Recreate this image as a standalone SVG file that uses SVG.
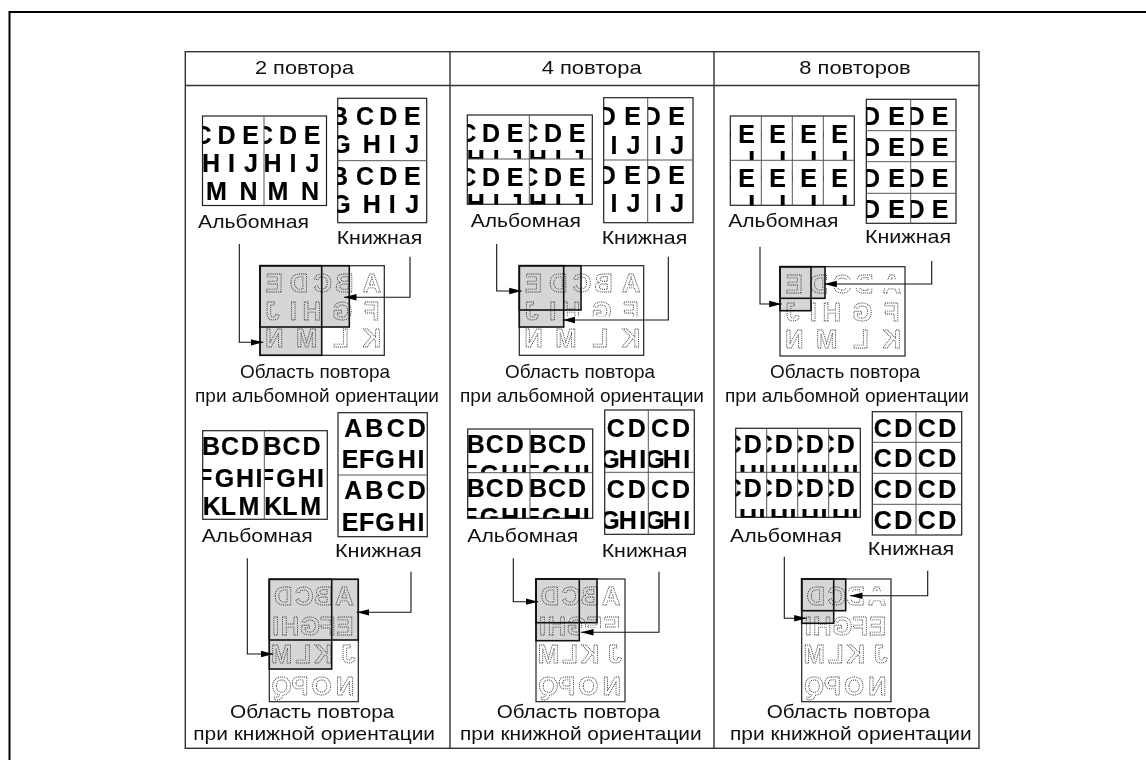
<svg xmlns="http://www.w3.org/2000/svg" width="1146" height="760" viewBox="0 0 1146 760">
<style>
.l{font:18.5px "Liberation Sans",Arial,sans-serif;fill:#111}
svg svg text{font:bold 25px "Liberation Sans",Arial,sans-serif;fill:#000;stroke:#000;stroke-width:.2;text-anchor:middle}
.o text{font:bold 25.5px "Liberation Sans",Arial,sans-serif;fill:none;stroke:#333;stroke-width:.85;stroke-dasharray:1 .9;text-anchor:middle}
.s{fill:none;stroke:#222;stroke-width:1.2}
.w{fill:#fff;stroke:#222;stroke-width:1.2}
.d{stroke:#555;stroke-width:1;fill:none}
.g{fill:#d6d6d6}
.r{fill:none;stroke:#111;stroke-width:1.6}
.t{stroke:#333;stroke-width:1.4;fill:none}
.a{fill:none;stroke:#111;stroke-width:1.1;marker-end:url(#h)}
</style>
<defs>
<filter id="soft" filterUnits="userSpaceOnUse" x="0" y="0" width="1146" height="760" color-interpolation-filters="sRGB"><feGaussianBlur stdDeviation=".3"/></filter>
<marker id="h" markerUnits="userSpaceOnUse" markerWidth="13" markerHeight="8" refX="12.5" refY="4" orient="auto"><path d="M0 .8L12.5 4L0 7.2Z" fill="#000"/></marker>
<g id="ml" class="o" transform="scale(-1,1)">
<text x="-14.3 -39 -62.7 -84.3 -111.7" y="26">EDCBA</text>
<text x="-12.3 -33.3 -51.7 -82.3 -111.7" y="54.3">JIHGF</text>
<text x="-14.3 -46.7 -81 -111.7" y="81.6">NMLK</text>
</g>
<g id="mp" class="o" transform="scale(-1,1)">
<text x="-14 -35 -54 -75" y="25.7">DCBA</text>
<text x="-6.4 -20.7 -40.7 -58.4 -75.7" y="55.7">IHGFE</text>
<text x="-12.4 -34 -54 -79" y="84">MLKJ</text>
<text x="-12.4 -30.7 -52.4 -75.7" y="115.7">QPON</text>
</g>
</defs>
<rect width="1146" height="760" fill="#fff"/>
<g id="all" filter="url(#soft)">
<g id="frame"><path d="M1146 12H9.5V760" fill="none" stroke="#000" stroke-width="2"/></g>

<g id="table">
<rect class="t" x="185.3" y="51.7" width="793.7" height="696.6"/>
<path class="t" d="M185.3 85.5H979M450 51.7V748.3M714 51.7V748.3"/>
<text class="l" x="255" y="74" textLength="99" lengthAdjust="spacingAndGlyphs">2 повтора</text>
<text class="l" x="541.7" y="74" textLength="100" lengthAdjust="spacingAndGlyphs">4 повтора</text>
<text class="l" x="799.3" y="74" textLength="111.4" lengthAdjust="spacingAndGlyphs">8 повторов</text>
</g>

<!-- column 1, top -->
<g id="c1t-land">
<rect class="w" x="202.5" y="116" width="124" height="89.5"/>
<svg x="202.5" y="116" width="61.5" height="89.5"><text x="0 24 48" y="27.5">CDE</text><text x="8.5 29 48.5" y="56">HIJ</text><text x="14 46" y="84">MN</text></svg>
<svg x="264" y="116" width="62.5" height="89.5"><text x="0 24 48" y="27.5">CDE</text><text x="8.5 29 48.5" y="56">HIJ</text><text x="14 46" y="84">MN</text></svg>
<path class="d" d="M264 116V205.5"/>
<text class="l" x="198" y="228" textLength="111" lengthAdjust="spacingAndGlyphs">Альбомная</text>
</g>
<g id="c1t-port">
<rect class="w" x="337.7" y="98.3" width="89" height="124.4"/>
<svg x="337.7" y="98.3" width="89" height="62.4"><text x="1.3 27.3 50.6 74.6" y="26.7">BCDE</text><text x="3.3 34 54.6 74.6" y="54.4">GHIJ</text></svg>
<svg x="337.7" y="160.7" width="89" height="62"><text x="1.3 27.3 50.6 74.6" y="24.3">BCDE</text><text x="3.3 34 54.6 74.6" y="52">GHIJ</text></svg>
<path class="d" d="M337.7 160.7H426.7"/>
<text class="l" x="336.7" y="244" textLength="85.6" lengthAdjust="spacingAndGlyphs">Книжная</text>
</g>
<g id="c1t-area">
<rect x="260" y="265.7" width="124.3" height="89.6" fill="#fff"/>
<rect class="g" x="260" y="265.7" width="61.7" height="89.6"/><rect class="g" x="260" y="265.7" width="89.3" height="61.3"/>
<use href="#ml" x="260" y="265.7"/>
<rect class="s" x="260" y="265.7" width="124.3" height="89.6"/>
<rect class="r" x="260" y="265.7" width="61.7" height="89.6"/><rect class="r" x="260" y="265.7" width="89.3" height="61.3"/>
<text class="l" x="240" y="378.3" textLength="150" lengthAdjust="spacingAndGlyphs">Область повтора</text>
<text class="l" x="195" y="401.7" textLength="244" lengthAdjust="spacingAndGlyphs">при альбомной ориентации</text>
</g>

<!-- column 1, bottom -->
<g id="c1b-land">
<rect class="w" x="202.7" y="430.7" width="124.6" height="88.6"/>
<svg x="202.7" y="430.7" width="61.6" height="88.6"><text x="8.3 27.3 47.3" y="24.3">BCD</text><text x="2 21.7 42.3 56.3" y="56">FGHI</text><text x="9 25.7 46.3" y="84.3">KLM</text></svg>
<svg x="264.3" y="430.7" width="63" height="88.6"><text x="8.3 27.3 47.3" y="24.3">BCD</text><text x="2 21.7 42.3 56.3" y="56">FGHI</text><text x="9 25.7 46.3" y="84.3">KLM</text></svg>
<path class="d" d="M264.3 430.7V519.3"/>
<text class="l" x="201.7" y="541.7" textLength="111" lengthAdjust="spacingAndGlyphs">Альбомная</text>
</g>
<g id="c1b-port">
<rect class="w" x="338" y="412.7" width="89.3" height="124"/>
<svg x="338" y="412.7" width="89.3" height="62.3"><text x="15.3 36.3 57.7 78.7" y="24.6">ABCD</text><text x="12 28.7 47 68.7 83" y="55.6">EFGHI</text></svg>
<svg x="338" y="475" width="89.3" height="61.7"><text x="15.3 36.3 57.7 78.7" y="24.3">ABCD</text><text x="12 28.7 47 68.7 83" y="55.7">EFGHI</text></svg>
<path class="d" d="M338 475H427.3"/>
<text class="l" x="335" y="556.7" textLength="86.7" lengthAdjust="spacingAndGlyphs">Книжная</text>
</g>
<g id="c1b-area">
<rect x="269.3" y="579.3" width="89" height="122.4" fill="#fff"/>
<rect class="g" x="269.3" y="579.3" width="89" height="60.7"/><rect class="g" x="269.3" y="579.3" width="62.4" height="89.7"/>
<use href="#mp" x="269.3" y="579.3"/>
<rect class="s" x="269.3" y="579.3" width="89" height="122.4"/>
<rect class="r" x="269.3" y="579.3" width="89" height="60.7"/><rect class="r" x="269.3" y="579.3" width="62.4" height="89.7"/>
<text class="l" x="230" y="718.3" textLength="164.3" lengthAdjust="spacingAndGlyphs">Область повтора</text>
<text class="l" x="193.3" y="740" textLength="241.7" lengthAdjust="spacingAndGlyphs">при книжной ориентации</text>
</g>

<!-- column 2, top -->
<g id="c2t-land">
<rect class="w" x="467.3" y="115" width="125" height="89.3"/>
<svg x="467.3" y="115" width="62" height="44"><text x="0 23.7 47.7" y="26.8">CDE</text><text x="8.5 29 48.5" y="53">HIJ</text></svg>
<svg x="529.3" y="115" width="63" height="44"><text x="0 23.7 47.7" y="26.8">CDE</text><text x="8.5 29 48.5" y="53">HIJ</text></svg>
<svg x="467.3" y="159" width="62" height="45.3"><text x="0 23.7 47.7" y="27">CDE</text><text x="8.5 29 48.5" y="53">HIJ</text></svg>
<svg x="529.3" y="159" width="63" height="45.3"><text x="0 23.7 47.7" y="27">CDE</text><text x="8.5 29 48.5" y="53">HIJ</text></svg>
<path class="d" d="M529.3 115V204.3M467.3 159H592.3"/>
<text class="l" x="470.7" y="226.7" textLength="110.3" lengthAdjust="spacingAndGlyphs">Альбомная</text>
</g>
<g id="c2t-port">
<rect class="w" x="603.7" y="97.7" width="89.3" height="125"/>
<svg x="603.7" y="97.7" width="44" height="62.3"><text x="3 29" y="27.3">DE</text><text x="10.3 29.7" y="56.3">IJ</text></svg>
<svg x="647.7" y="97.7" width="45.3" height="62.3"><text x="4 29" y="27.3">DE</text><text x="10.6 29.6" y="56.3">IJ</text></svg>
<svg x="603.7" y="160" width="44" height="62.7"><text x="3 29" y="24">DE</text><text x="10.3 29.7" y="51.7">IJ</text></svg>
<svg x="647.7" y="160" width="45.3" height="62.7"><text x="4 29" y="24">DE</text><text x="10.6 29.6" y="51.7">IJ</text></svg>
<path class="d" d="M647.7 97.7V222.7M603.7 160H693"/>
<text class="l" x="601.7" y="244" textLength="85.6" lengthAdjust="spacingAndGlyphs">Книжная</text>
</g>
<g id="c2t-area">
<rect x="519.3" y="265.7" width="124.4" height="89.6" fill="#fff"/>
<rect class="g" x="519.3" y="265.7" width="61.7" height="44.3"/><rect class="g" x="519.3" y="265.7" width="44.4" height="61.3"/>
<use href="#ml" x="519.3" y="265.7"/>
<rect x="564.5" y="316.5" width="78.5" height="7" fill="#fff"/>
<rect class="s" x="519.3" y="265.7" width="124.4" height="89.6"/>
<rect class="r" x="519.3" y="265.7" width="61.7" height="44.3"/><rect class="r" x="519.3" y="265.7" width="44.4" height="61.3"/>
<text class="l" x="505" y="378.3" textLength="150" lengthAdjust="spacingAndGlyphs">Область повтора</text>
<text class="l" x="460" y="401.7" textLength="244" lengthAdjust="spacingAndGlyphs">при альбомной ориентации</text>
</g>

<!-- column 2, bottom -->
<g id="c2b-land">
<rect class="w" x="467.7" y="429" width="125" height="89.3"/>
<svg x="467.7" y="429" width="62.3" height="43.7"><text x="8 27 47" y="24.3">BCD</text><text x="2 21.7 42.3 56.3" y="53.7">FGHI</text></svg>
<svg x="530" y="429" width="62.7" height="43.7"><text x="8 27 47" y="24.3">BCD</text><text x="2 21.7 42.3 56.3" y="53.7">FGHI</text></svg>
<svg x="467.7" y="472.7" width="62.3" height="45.6"><text x="8 27 47" y="24.6">BCD</text><text x="2 21.7 42.3 56.3" y="53.7">FGHI</text></svg>
<svg x="530" y="472.7" width="62.7" height="45.6"><text x="8 27 47" y="24.6">BCD</text><text x="2 21.7 42.3 56.3" y="53.7">FGHI</text></svg>
<path class="d" d="M530 429V518.3M467.7 472.7H592.7"/>
<text class="l" x="467.3" y="541.7" textLength="111" lengthAdjust="spacingAndGlyphs">Альбомная</text>
</g>
<g id="c2b-port">
<rect class="w" x="604.7" y="410" width="89.6" height="124.3"/>
<svg x="604.7" y="410" width="43.6" height="62.3"><text x="11 32" y="26.7">CD</text><text x="5.3 23 38" y="58.3">GHI</text></svg>
<svg x="648.3" y="410" width="46" height="62.3"><text x="11.7 32.7" y="26.7">CD</text><text x="6.7 23.4 38.4" y="58.3">GHI</text></svg>
<svg x="604.7" y="472.3" width="43.6" height="62"><text x="11 32" y="26">CD</text><text x="5.3 23 38" y="57">GHI</text></svg>
<svg x="648.3" y="472.3" width="46" height="62"><text x="11.7 32.7" y="26">CD</text><text x="6.7 23.4 38.4" y="57">GHI</text></svg>
<path class="d" d="M648.3 410V534.3M604.7 472.3H694.3"/>
<text class="l" x="601.7" y="556.7" textLength="85.6" lengthAdjust="spacingAndGlyphs">Книжная</text>
</g>
<g id="c2b-area">
<rect x="536" y="579" width="89" height="122.7" fill="#fff"/>
<rect class="g" x="536" y="579" width="61" height="43.7"/><rect class="g" x="536" y="579" width="43.3" height="61.7"/>
<use href="#mp" x="536" y="579.3"/>
<rect x="580" y="628" width="44" height="8.5" fill="#fff"/>
<rect class="s" x="536" y="579" width="89" height="122.7"/>
<rect class="r" x="536" y="579" width="61" height="43.7"/><rect class="r" x="536" y="579" width="43.3" height="61.7"/>
<text class="l" x="496.7" y="718.3" textLength="163.3" lengthAdjust="spacingAndGlyphs">Область повтора</text>
<text class="l" x="460" y="740" textLength="241.7" lengthAdjust="spacingAndGlyphs">при книжной ориентации</text>
</g>

<!-- column 3, top -->
<g id="c3t-land">
<rect class="w" x="730.3" y="116" width="124" height="89.3"/>
<svg x="730.3" y="116" width="31" height="44.3"><text x="-7.6 16.4" y="26.7">DE</text><text x="21.4" y="53">I</text></svg>
<svg x="761.3" y="116" width="31" height="44.3"><text x="-7.6 16.4" y="26.7">DE</text><text x="21.4" y="53">I</text></svg>
<svg x="792.3" y="116" width="31" height="44.3"><text x="-7.6 16.4" y="26.7">DE</text><text x="21.4" y="53">I</text></svg>
<svg x="823.3" y="116" width="31" height="44.3"><text x="-7.6 16.4" y="26.7">DE</text><text x="21.4" y="53">I</text></svg>
<svg x="730.3" y="160.3" width="31" height="45"><text x="-7.6 16.4" y="26.7">DE</text><text x="21.4" y="53">I</text></svg>
<svg x="761.3" y="160.3" width="31" height="45"><text x="-7.6 16.4" y="26.7">DE</text><text x="21.4" y="53">I</text></svg>
<svg x="792.3" y="160.3" width="31" height="45"><text x="-7.6 16.4" y="26.7">DE</text><text x="21.4" y="53">I</text></svg>
<svg x="823.3" y="160.3" width="31" height="45"><text x="-7.6 16.4" y="26.7">DE</text><text x="21.4" y="53">I</text></svg>
<path class="d" d="M761.3 116V205.3M792.3 116V205.3M823.3 116V205.3M730.3 160.3H854.3"/>
<text class="l" x="728.3" y="226.7" textLength="110" lengthAdjust="spacingAndGlyphs">Альбомная</text>
</g>
<g id="c3t-port">
<rect class="w" x="866.3" y="99.3" width="89.7" height="124"/>
<svg x="866.3" y="99.3" width="44.4" height="31.4"><text x="4.7 30.4" y="25.7">DE</text></svg>
<svg x="910.7" y="99.3" width="45.3" height="31.4"><text x="4.8 29.3" y="25.7">DE</text></svg>
<svg x="866.3" y="130.7" width="44.4" height="31"><text x="4.7 30.4" y="25.3">DE</text></svg>
<svg x="910.7" y="130.7" width="45.3" height="31"><text x="4.8 29.3" y="25.3">DE</text></svg>
<svg x="866.3" y="161.7" width="44.4" height="31.6"><text x="4.7 30.4" y="25.6">DE</text></svg>
<svg x="910.7" y="161.7" width="45.3" height="31.6"><text x="4.8 29.3" y="25.6">DE</text></svg>
<svg x="866.3" y="193.3" width="44.4" height="30"><text x="4.7 30.4" y="25">DE</text></svg>
<svg x="910.7" y="193.3" width="45.3" height="30"><text x="4.8 29.3" y="25">DE</text></svg>
<path class="d" d="M910.7 99.3V223.3M866.3 130.7H956M866.3 161.7H956M866.3 193.3H956"/>
<text class="l" x="865" y="243.3" textLength="86" lengthAdjust="spacingAndGlyphs">Книжная</text>
</g>
<g id="c3t-area">
<rect x="780" y="266.7" width="125" height="89.3" fill="#fff"/>
<rect class="g" x="780" y="266.7" width="45" height="31.6"/><rect class="g" x="780" y="266.7" width="31" height="44"/>
<use href="#ml" x="780" y="266.7"/>
<rect x="826" y="280" width="78" height="8" fill="#fff"/>
<rect class="s" x="780" y="266.7" width="125" height="89.3"/>
<rect class="r" x="780" y="266.7" width="45" height="31.6"/><rect class="r" x="780" y="266.7" width="31" height="44"/>
<text class="l" x="770" y="378.3" textLength="150" lengthAdjust="spacingAndGlyphs">Область повтора</text>
<text class="l" x="725" y="401.7" textLength="244" lengthAdjust="spacingAndGlyphs">при альбомной ориентации</text>
</g>

<!-- column 3, bottom -->
<g id="c3b-land">
<rect class="w" x="735.7" y="428.3" width="124.6" height="89"/>
<svg x="735.7" y="428.3" width="31" height="44"><text x="-3 17" y="25">CD</text><text x="-8.3 12.3 26.3" y="54.4">GHI</text></svg>
<svg x="766.7" y="428.3" width="31" height="44"><text x="-3 17" y="25">CD</text><text x="-8.3 12.3 26.3" y="54.4">GHI</text></svg>
<svg x="797.7" y="428.3" width="31" height="44"><text x="-3 17" y="25">CD</text><text x="-8.3 12.3 26.3" y="54.4">GHI</text></svg>
<svg x="828.7" y="428.3" width="31.6" height="44"><text x="-3 17" y="25">CD</text><text x="-8.3 12.3 26.3" y="54.4">GHI</text></svg>
<svg x="735.7" y="472.3" width="31" height="45"><text x="-3 17" y="24.4">CD</text><text x="-8.3 12.3 26.3" y="54.4">GHI</text></svg>
<svg x="766.7" y="472.3" width="31" height="45"><text x="-3 17" y="24.4">CD</text><text x="-8.3 12.3 26.3" y="54.4">GHI</text></svg>
<svg x="797.7" y="472.3" width="31" height="45"><text x="-3 17" y="24.4">CD</text><text x="-8.3 12.3 26.3" y="54.4">GHI</text></svg>
<svg x="828.7" y="472.3" width="31.6" height="45"><text x="-3 17" y="24.4">CD</text><text x="-8.3 12.3 26.3" y="54.4">GHI</text></svg>
<path class="d" d="M766.7 428.3V517.3M797.7 428.3V517.3M828.7 428.3V517.3M735.7 472.3H860.3"/>
<text class="l" x="730" y="541.7" textLength="111.7" lengthAdjust="spacingAndGlyphs">Альбомная</text>
</g>
<g id="c3b-port">
<rect class="w" x="872.3" y="411.7" width="89.4" height="123.3"/>
<svg x="872.3" y="411.7" width="89.4" height="30.6"><text x="10.4 31 54.4 75" y="25">CDCD</text></svg>
<svg x="872.3" y="442.3" width="89.4" height="31"><text x="10.4 31 54.4 75" y="25">CDCD</text></svg>
<svg x="872.3" y="473.3" width="89.4" height="31"><text x="10.4 31 54.4 75" y="25">CDCD</text></svg>
<svg x="872.3" y="504.3" width="89.4" height="30.7"><text x="10.4 31 54.4 75" y="25">CDCD</text></svg>
<path class="d" d="M916 411.7V535M872.3 442.3H961.7M872.3 473.3H961.7M872.3 504.3H961.7"/>
<text class="l" x="867.7" y="555" textLength="86.6" lengthAdjust="spacingAndGlyphs">Книжная</text>
</g>
<g id="c3b-area">
<rect x="801.7" y="579" width="89.3" height="122.7" fill="#fff"/>
<rect class="g" x="801.7" y="579" width="44" height="31.7"/><rect class="g" x="801.7" y="579" width="32" height="44.3"/>
<use href="#mp" x="801.7" y="579.3"/>
<rect x="846.5" y="591.5" width="44" height="8" fill="#fff"/>
<rect class="s" x="801.7" y="579" width="89.3" height="122.7"/>
<rect class="r" x="801.7" y="579" width="44" height="31.7"/><rect class="r" x="801.7" y="579" width="32" height="44.3"/>
<text class="l" x="766.7" y="718.3" textLength="163.3" lengthAdjust="spacingAndGlyphs">Область повтора</text>
<text class="l" x="730" y="740" textLength="241.7" lengthAdjust="spacingAndGlyphs">при книжной ориентации</text>
</g>

<g id="connectors">
<path class="a" d="M239.3 244V342.3H263.3"/>
<path class="a" d="M410 256.7V297.3H344"/>
<path class="a" d="M247.3 558.3V654H273.3"/>
<path class="a" d="M411 571.7V612.3H356.7"/>
<path class="a" d="M496.7 244V291H521.7"/>
<path class="a" d="M668.3 256.7V320H562.7"/>
<path class="a" d="M513.3 558.3V601.7H538.3"/>
<path class="a" d="M659 571.7V632.3H581"/>
<path class="a" d="M760 246.7V304H781.7"/>
<path class="a" d="M931.7 261V284H824.3"/>
<path class="a" d="M784.3 556.7V618.3H806.7"/>
<path class="a" d="M927.7 570.7V595.7H850"/>
</g>
</g>
</svg>
